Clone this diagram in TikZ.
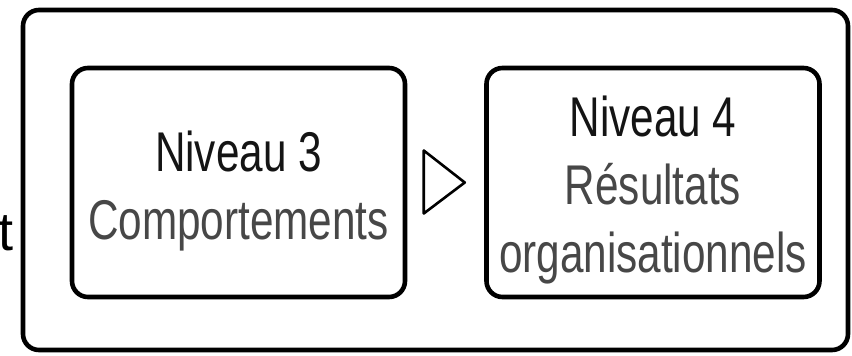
\documentclass[tikz,border=0pt]{standalone}
\usepackage{fontspec}
\setmainfont{Liberation Sans}
\newfontfamily\etroite[FakeStretch=0.755]{Liberation Sans}
\usetikzlibrary{calc}

\tikzset{
    niveau/.style={draw, line width=2.3pt, rounded corners=8pt,
        minimum width=166.5pt, minimum height=114.5pt, inner sep=0pt},
    texte/.style={align=center, inner sep=0pt, text=black!72,
        font=\etroite\fontsize{28}{34}\selectfont}
}

\begin{document}
\begin{tikzpicture}[x=0.5pt,y=-0.5pt]
    \useasboundingbox (0,0) rectangle (852,355);

    % Cadre exterieur
    \draw[line width=2.3pt, rounded corners=8pt] (23,10) rectangle (848,350);

    % Lettre coupee a gauche
    \node[anchor=base east, inner sep=0pt, font=\fontsize{27}{34}\selectfont] (coupe) at (14,250) {t};

    % Les deux niveaux
    \node[niveau] (n3) at (238.5,182.5) {};
    \node[niveau] (n4) at (653,182.5) {};

    \node[texte] (t3) at ($(n3.center)+(0,9)$) {{\color{black!92}Niveau 3}\\Comportements};
    \node[texte] (t4) at ($(n4.center)+(0,7.5)$) {{\color{black!92}Niveau 4}\\R\'esultats\\organisationnels};

    % Fleche entre les niveaux
    \coordinate (fl) at ($(n3.east)!0.5!(n4.west)$);
    \draw[line width=1.3pt, line join=round] ($(fl)+(-22,-32)$) -- ($(fl)+(19,0)$) -- ($(fl)+(-22,31)$) -- cycle;
\end{tikzpicture}
\end{document}
